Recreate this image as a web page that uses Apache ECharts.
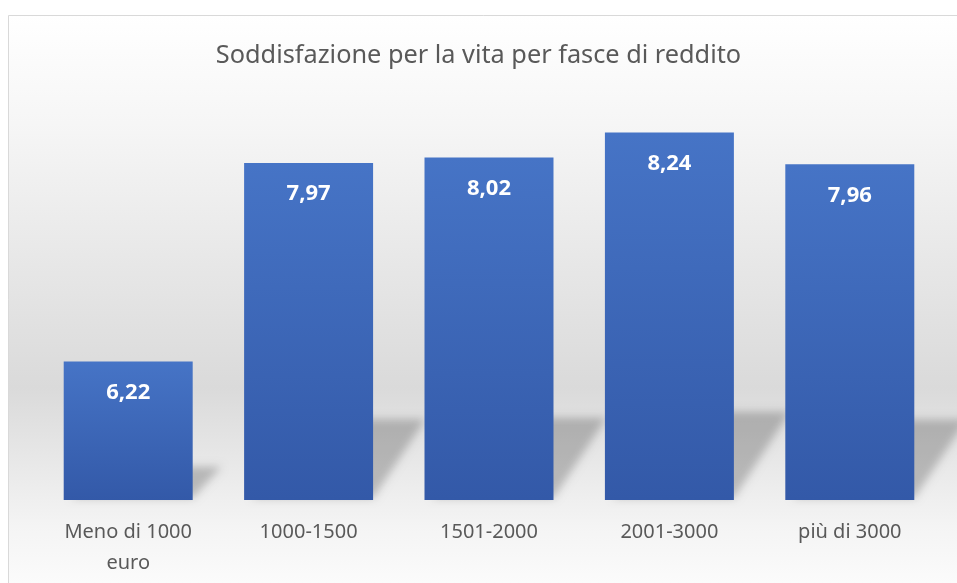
<!DOCTYPE html>
<html>
<head>
<meta charset="utf-8">
<script src="https://cdn.jsdelivr.net/npm/echarts@6/dist/echarts.min.js"></script>
<style>html,body{margin:0;padding:0;background:#fff;}#c{width:957px;height:583px;}</style>
</head>
<body>
<div id="c"></div>
<script>
var categories = ['Meno di 1000\neuro', '1000-1500', '1501-2000', '2001-3000', 'più di 3000'];
var values = [6.22, 7.97, 8.02, 8.24, 7.96];
var titleText = 'Soddisfazione per la vita per fasce di reddito';

var chart = echarts.init(document.getElementById('c'));
var fontFam = '"Noto Sans", "Open Sans", sans-serif';
var OFF = 3000;

function shadowItem(params, api) {
  var idx = params.dataIndex;
  var v = api.value(1);
  var base = api.coord([idx, 5]);
  var top = api.coord([idx, v]);
  var bw = api.size([1, 0])[0] * 0.715;
  var xL = base[0] - bw / 2, xR = base[0] + bw / 2;
  var h = base[1] - top[1];
  var sh = h * 0.24, dx = h * 0.12 + 12;
  return {
    type: 'polygon',
    shape: { points: [[xL + 8 - OFF, base[1] - 2], [xR - OFF, base[1] - 2], [xR + dx - OFF, base[1] - sh], [xL + dx + 8 - OFF, base[1] - sh]] },
    style: { fill: '#000', shadowBlur: 9, shadowColor: 'rgba(0,0,0,0.22)', shadowOffsetX: OFF, shadowOffsetY: 0 },
    z2: 0
  };
}

chart.setOption({
  backgroundColor: '#ffffff',
  animation: false,
  graphic: [{
    type: 'rect', z: -10, silent: true,
    shape: { x: 8.5, y: 15.5, width: 1000, height: 600 },
    style: {
      fill: new echarts.graphic.LinearGradient(0, 0, 0, 1, [
        { offset: 0, color: '#ffffff' },
        { offset: 0.18, color: '#f6f6f6' },
        { offset: 0.62, color: '#dadada' },
        { offset: 0.85, color: '#f4f4f4' },
        { offset: 1, color: '#ffffff' }
      ], false),
      stroke: '#d9d9d9', lineWidth: 1
    }
  }],
  title: {
    text: titleText,
    left: 'center', top: 38,
    textStyle: { fontFamily: fontFam, fontSize: 25.3, fontWeight: 'normal', color: '#595959' }
  },
  grid: { left: 38, right: 17, top: 103, bottom: 83, containLabel: false },
  xAxis: {
    type: 'category', data: categories,
    axisLine: { show: false }, axisTick: { show: false },
    axisLabel: { fontFamily: fontFam, fontSize: 20, color: '#595959', margin: 17, lineHeight: 31, interval: 0 }
  },
  yAxis: {
    type: 'value', min: 5, max: 8.5, interval: 0.5,
    show: false, splitLine: { show: false }
  },
  series: [{
    type: 'custom',
    renderItem: shadowItem,
    data: values.map(function (v, i) { return [i, v]; }),
    encode: { x: 0, y: 1 },
    clip: false,
    z: 1, silent: true
  }, {
    type: 'bar', data: values, barWidth: '71.5%', z: 2,
    itemStyle: {
      color: new echarts.graphic.LinearGradient(0, 0, 0, 1, [
        { offset: 0, color: '#4674c6' },
        { offset: 1, color: '#3359a8' }
      ])
    },
    label: {
      show: true, position: 'insideTop', distance: 20,
      formatter: function (p) { return p.value.toFixed(2).replace('.', ','); },
      fontFamily: fontFam, fontSize: 22, fontWeight: 'bold', color: '#ffffff'
    }
  }]
});
</script>
</body>
</html>
